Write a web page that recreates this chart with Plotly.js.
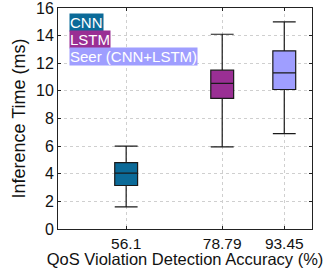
<!DOCTYPE html>
<html><head><meta charset="utf-8">
<script src="https://cdn.plot.ly/plotly-3.0.1.min.js"></script>
<style>html,body{margin:0;padding:0;background:#fff}#c{width:328px;height:268px}</style>
</head><body><div id="c"></div>
<script>
const names = ["CNN", "LSTM", "Seer (CNN+LSTM)"];
const accuracy = [56.1, 78.79, 93.45];
const lowWhisker = [1.6, 5.95, 6.9];
const q1 = [3.15, 9.45, 10.1];
const median = [4.05, 10.55, 11.3];
const q3 = [4.8, 11.5, 12.9];
const highWhisker = [6.0, 14.1, 15.0];
const yTicks = [0, 2, 4, 6, 8, 10, 12, 14, 16];
const colors = ["#0b6a98", "#9a2f94", "#9f9eff"];

const traces = names.map((n, i) => ({
  type: "box", name: n, x: [accuracy[i]],
  q1: [q1[i]], median: [median[i]], q3: [q3[i]],
  lowerfence: [lowWhisker[i]], upperfence: [highWhisker[i]],
  width: 5.4, whiskerwidth: 1,
  fillcolor: colors[i], line: {color: "#1a1a1a", width: 1.2},
  showlegend: false, hoverinfo: "skip"
}));

const annotations = names.map((n, i) => ({
  xref: "paper", yref: "paper", x: 0.045, y: 0.978 - i * 0.078,
  xanchor: "left", yanchor: "top", text: n, showarrow: false,
  bgcolor: colors[i], font: {family: "Liberation Sans, Arial, sans-serif", size: 15, color: "#fff"},
  borderpad: 0
}));

const layout = {
  width: 328, height: 268,
  margin: {l: 58, r: 16, t: 8, b: 39, autoexpand: false},
  paper_bgcolor: "#fff", plot_bgcolor: "#fff",
  font: {family: "Liberation Sans, Arial, sans-serif", size: 16, color: "#111"},
  xaxis: {
    range: [40, 100], tickvals: accuracy, ticktext: accuracy.map(String),
    showline: true, linecolor: "#222", linewidth: 1, mirror: "ticks",
    ticks: "inside", ticklen: 3, tickcolor: "#222",
    showgrid: true, gridcolor: "#cfcfcf", griddash: "dot", gridwidth: 1,
    zeroline: false,
    title: {text: "QoS Violation Detection Accuracy (%)", font: {size: 16.5}, standoff: 3},
    tickfont: {size: 15.5}
  },
  yaxis: {
    range: [0, 16], tickvals: yTicks, ticktext: yTicks.map(String),
    ticklabeloverflow: "allow",
    showline: true, linecolor: "#222", linewidth: 1, mirror: "ticks",
    ticks: "inside", ticklen: 3, tickcolor: "#222",
    showgrid: true, gridcolor: "#cfcfcf", griddash: "dot", gridwidth: 1,
    zeroline: false,
    title: {text: "Inference Time (ms)", font: {size: 18}, standoff: 5},
    tickfont: {size: 16}
  },
  annotations: annotations
};
Plotly.newPlot("c", traces, layout, {displayModeBar: false, staticPlot: true});
</script></body></html>
